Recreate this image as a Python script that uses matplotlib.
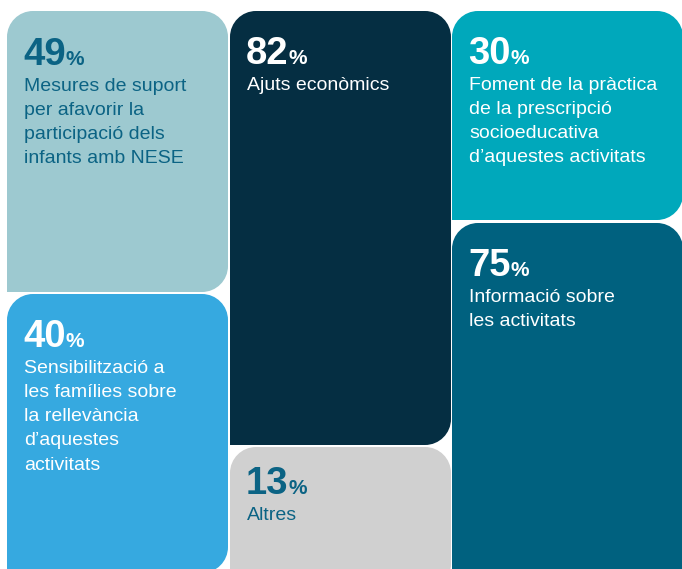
import matplotlib.pyplot as plt
from matplotlib.path import Path
from matplotlib.patches import PathPatch

plt.rcParams['font.family'] = ['Liberation Sans', 'DejaVu Sans']

# data
values = [49, 40, 82, 13, 30, 75]
labels = [
    "Mesures de suport\nper afavorir la\nparticipació dels\ninfants amb NESE",
    "Sensibilització a\nles famílies sobre\nla rellevància\nd’aquestes\nactivitats",
    "Ajuts econòmics",
    "Altres",
    "Foment de la pràctica\nde la prescripció\nsocioeducativa\nd’aquestes activitats",
    "Informació sobre\nles activitats",
]
colors = ['#9dc9d0', '#36a9e0', '#052e42', '#d0d0d0', '#00a8bb', '#00617f']
text_colors = ['#0b6384', 'white', 'white', '#0b6384', 'white', 'white']

# layout in pixels (x0, y0, x1, y1), y grows downward
boxes = [
    (7, 11, 228, 292),
    (7, 294, 228, 573),
    (230, 11, 451, 445),
    (230, 447, 451, 590),
    (452, 11, 683, 220),
    (452, 223, 683, 590),
]
# baseline of the big number below the box top
num_offsets = [54, 53, 53, 47, 53, 53]
RADIUS = 26


def box_path(x0, y0, x1, y1, r):
    """ Rounded box, bottom-left corner left square. """
    k = 0.5523 * r
    verts = [
        (x0, y1),
        (x0, y0 + r),
        (x0, y0 + r - k), (x0 + r - k, y0), (x0 + r, y0),
        (x1 - r, y0),
        (x1 - r + k, y0), (x1, y0 + r - k), (x1, y0 + r),
        (x1, y1 - r),
        (x1, y1 - r + k), (x1 - r + k, y1), (x1 - r, y1),
        (x0, y1),
        (x0, y1),
    ]
    codes = [Path.MOVETO, Path.LINETO,
             Path.CURVE4, Path.CURVE4, Path.CURVE4,
             Path.LINETO,
             Path.CURVE4, Path.CURVE4, Path.CURVE4,
             Path.LINETO,
             Path.CURVE4, Path.CURVE4, Path.CURVE4,
             Path.LINETO, Path.CLOSEPOLY]
    return Path(verts, codes)


fig = plt.figure(figsize=(6.82, 5.69), dpi=100)
ax = fig.add_axes([0, 0, 1, 1])
ax.set_xlim(0, 682)
ax.set_ylim(569, 0)
ax.axis('off')

renderer = fig.canvas.get_renderer()

for val, lab, col, tcol, (x0, y0, x1, y1), off in zip(values, labels, colors, text_colors,
                                                       boxes, num_offsets):
    ax.add_patch(PathPatch(box_path(x0, y0, x1, y1, RADIUS), facecolor=col, edgecolor='none'))
    tx = x0 + 16
    ty = y0 + off
    num = ax.text(tx, ty, str(val), color=tcol, fontsize=27.5, fontweight='bold',
                  va='baseline', ha='left')
    bb = num.get_window_extent(renderer=renderer)
    right = ax.transData.inverted().transform((bb.x1, bb.y0))[0]
    ax.text(right, ty, '%', color=tcol, fontsize=15, fontweight='bold',
            va='baseline', ha='left')
    ax.text(tx + 1, ty + 13, lab, color=tcol, fontsize=14, va='top', ha='left',
            linespacing=1.55)

fig.savefig('out.png', dpi=100)
